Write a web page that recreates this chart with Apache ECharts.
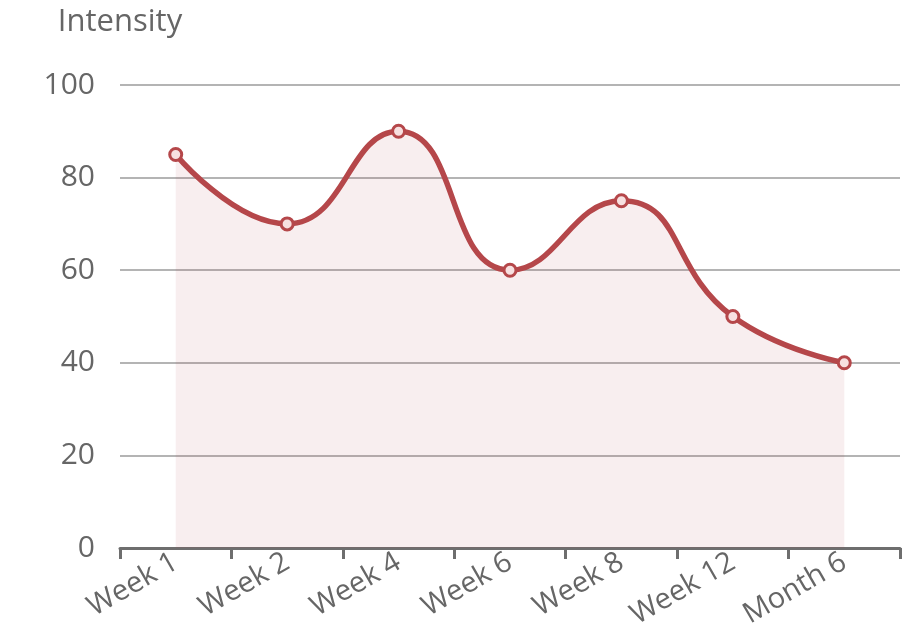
<!DOCTYPE html>
<html>
<head>
<meta charset="utf-8">
<script src="https://cdn.jsdelivr.net/npm/echarts@6/dist/echarts.min.js"></script>
<style>
  html, body { margin: 0; padding: 0; background: #fff; }
  #chart { width: 915px; height: 637px; }
</style>
</head>
<body>
<div id="chart"></div>
<script>
// Time points and intensity readings
const timePoints = ['Week 1', 'Week 2', 'Week 4', 'Week 6', 'Week 8', 'Week 12', 'Month 6'];
const intensity = [85, 70, 90, 60, 75, 50, 40];
const yTicks = { min: 0, max: 100, interval: 20 };

const lineColor = '#b5474a';
const textColor = '#666666';
const fontFamily = '"Open Sans", "Noto Sans", sans-serif';

const chart = echarts.init(document.getElementById('chart'), null, { renderer: 'canvas' });

chart.setOption({
  animation: false,
  grid: { left: 120, right: 15, top: 85, bottom: 89, containLabel: false },
  xAxis: {
    type: 'category',
    data: timePoints,
    boundaryGap: true,
    axisLine: { show: true, lineStyle: { color: '#6e6e6e', width: 3 } },
    axisTick: { show: true, length: 11, lineStyle: { color: '#6e6e6e', width: 3 } },
    axisLabel: {
      rotate: 30,
      color: textColor,
      fontSize: 29,
      fontFamily: fontFamily,
      margin: 12
    }
  },
  yAxis: {
    type: 'value',
    min: yTicks.min,
    max: yTicks.max,
    interval: yTicks.interval,
    name: 'Intensity',
    nameLocation: 'end',
    nameGap: 47,
    nameTextStyle: { color: textColor, fontSize: 31, fontFamily: fontFamily },
    axisLine: { show: false },
    axisTick: { show: false },
    axisLabel: {
      color: textColor,
      fontSize: 30,
      fontFamily: fontFamily,
      margin: 25
    },
    splitLine: { show: true, lineStyle: { color: '#b4b4b4', width: 2 } }
  },
  series: [{
    type: 'line',
    data: intensity,
    smooth: true,
    symbol: 'circle',
    symbolSize: 12,
    lineStyle: { color: lineColor, width: 5.5 },
    itemStyle: { color: '#f7e0e0', borderColor: lineColor, borderWidth: 3 },
    areaStyle: { color: 'rgba(181, 71, 74, 0.13)' }
  }]
});
</script>
</body>
</html>
